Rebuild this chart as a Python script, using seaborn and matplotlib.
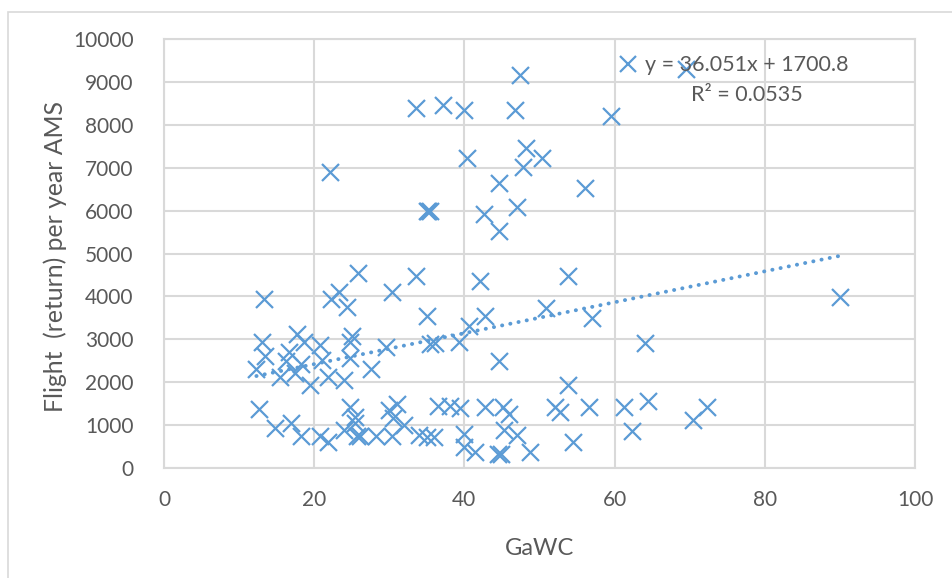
import numpy as np
import pandas as pd
import matplotlib
matplotlib.use("Agg")
import matplotlib.pyplot as plt
import seaborn as sns
from matplotlib.patches import Rectangle

# GaWC score vs. return flights per year from AMS
gawc = [69.5, 47.4, 33.6, 37.2, 40.0, 46.7, 59.5, 48.2, 40.3, 50.3,
        47.8, 22.1, 44.6, 56.0, 47.0, 35.0, 35.2, 35.4, 42.6, 44.6,
        25.8, 33.6, 53.8, 42.1, 23.3, 30.4, 13.3, 22.2, 24.3, 50.9,
        35.0, 42.8, 57.0, 40.6, 17.7, 25.0, 13.0, 18.7, 24.7, 35.4,
        36.1, 39.3, 64.1, 20.8, 29.6, 16.6, 13.4, 24.7, 21.1, 16.2,
        44.6, 18.3, 12.3, 27.5, 17.4, 15.4, 21.9, 23.9, 19.4, 53.8,
        90.0, 12.6, 24.7, 30.0, 31.0, 36.5, 38.1, 39.4, 42.7, 45.2,
        46.0, 52.1, 52.7, 56.6, 61.3, 64.4, 72.3, 70.5, 25.4, 30.5,
        16.9, 25.4, 31.9, 14.8, 23.9, 45.3, 62.3, 18.3, 20.8, 25.7,
        26.1, 28.2, 30.3, 33.9, 35.0, 35.9, 40.0, 47.0, 21.9, 54.4,
        40.0, 41.4, 48.8, 44.5, 44.9]
flights = [9300, 9150, 8400, 8460, 8350, 8340, 8200, 7470, 7230, 7220,
           7020, 6900, 6650, 6530, 6090, 5980, 6000, 5990, 5920, 5530,
           4550, 4480, 4480, 4370, 4110, 4110, 3930, 3930, 3750, 3740,
           3550, 3550, 3490, 3320, 3120, 3070, 2930, 2930, 2930, 2900,
           2920, 2930, 2920, 2870, 2810, 2700, 2620, 2560, 2520, 2490,
           2490, 2420, 2300, 2310, 2210, 2110, 2110, 2050, 1930, 1930,
           3980, 1380, 1430, 1350, 1500, 1445, 1445, 1390, 1430, 1430,
           1260, 1430, 1310, 1430, 1430, 1560, 1430, 1130, 1200, 1160,
           1060, 1040, 1000, 940, 890, 890, 870, 750, 750, 750,
           750, 750, 750, 760, 730, 715, 800, 760, 610, 610,
           500, 380, 380, 330, 330]

# Excel linear trendline shown on the chart
slope = 36.051
intercept = 1700.8
eq_text = "y = 36.051x + 1700.8"
r2_text = "R² = 0.0535"

blue = "#5B9BD5"
grid = "#D9D9D9"
txt = "#595959"

sns.set_theme(style="white")
plt.rcParams['font.family'] = ['Lato', 'DejaVu Sans']

df = pd.DataFrame({"GaWC": gawc, "Flights": flights})

fig = plt.figure(figsize=(9.52, 5.78), dpi=100)
ax = fig.add_axes([0.1723, 0.1903, 0.7888, 0.7422])

# chart area border (cropped on right/bottom in the reference)
fig.patches.append(Rectangle((8 / 952, -0.05), 1.2, 1 - 12 / 578 + 0.05,
                             transform=fig.transFigure, fill=False,
                             edgecolor=grid, linewidth=1.2, zorder=0))

sns.scatterplot(data=df, x="GaWC", y="Flights", marker="x", s=150,
                color=blue, linewidth=1.6, ax=ax, zorder=3)

x_fit = np.array([min(gawc), max(gawc)])
y_fit = slope * x_fit + intercept
ax.plot(x_fit, y_fit, color=blue, linewidth=2.8, linestyle=(0, (0.05, 2.1)),
        dash_capstyle="round", zorder=2)

ax.set_xlim(0, 100)
ax.set_ylim(0, 10000)
ax.set_xticks(range(0, 101, 20))
ax.set_yticks(range(0, 10001, 1000))
ax.grid(True, color=grid, linewidth=1.5)
ax.set_axisbelow(True)
for sp in ax.spines.values():
    sp.set_color(grid)
    sp.set_linewidth(1.5)
ax.tick_params(axis="both", length=0, labelsize=15, labelcolor=txt)
ax.tick_params(axis="y", pad=22)
ax.tick_params(axis="x", pad=16)

ax.set_xlabel("GaWC", fontsize=17, color=txt, labelpad=20)
ax.set_ylabel("Flight  (return) per year AMS", fontsize=17.8, color=txt)
ax.yaxis.set_label_coords(-0.129, 0.494)

# legend marker + trendline label
handle = plt.Line2D([], [], marker="x", linestyle="none", color=blue,
                    markersize=12, markeredgewidth=1.6)
ax.legend(handles=[handle], labels=[""], loc="center",
          bbox_to_anchor=(0.618, 0.939), frameon=False, handlelength=1,
          borderpad=0, handletextpad=0)
ax.text(0.7757, 0.939, eq_text, transform=ax.transAxes, ha="center",
        va="center", fontsize=15.5, color=txt)
ax.text(0.7757, 0.869, r2_text, transform=ax.transAxes, ha="center",
        va="center", fontsize=15.5, color=txt)

fig.savefig("out.png", dpi=100)
